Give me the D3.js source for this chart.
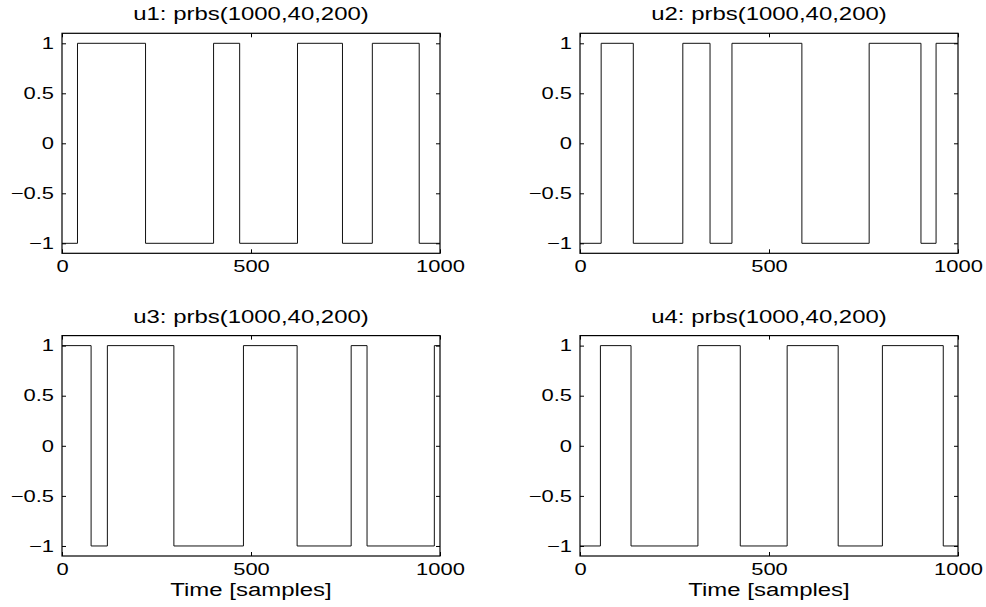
<!DOCTYPE html>
<html>
<head>
<meta charset="utf-8">
<script src="https://cdn.jsdelivr.net/npm/d3@7"></script>
<style>
  html, body { margin: 0; padding: 0; background: #fff; }
  svg { display: block; }
  text { font-family: "Liberation Sans", Arial, Helvetica, sans-serif; fill: #000; }
</style>
</head>
<body>
<svg id="chart" width="986" height="607"></svg>
<script>
// ---- data ----
const titles = ["u1: prbs(1000,40,200)", "u2: prbs(1000,40,200)", "u3: prbs(1000,40,200)", "u4: prbs(1000,40,200)"];
const startLevels = [-1, -1, 1, -1];
const u1Switch = [41, 221, 401, 470, 623, 742, 821, 945];
const u2Switch = [56, 141, 272, 344, 402, 587, 765, 902, 942];
const u3Switch = [77, 120, 296, 480, 622, 765, 807, 985];
const u4Switch = [54, 135, 312, 424, 548, 683, 800, 961];
const switchTimes = [u1Switch, u2Switch, u3Switch, u4Switch];
const nSamples = 1000;
const xTicks = [0, 500, 1000];
const yTicks = [-1, -0.5, 0, 0.5, 1];
const xDomain = [0, 1000];
const yDomain = [-1.1, 1.1];
const xLabel = "Time [samples]";

// ---- layout ----
const panels = [
  {x0: 62, x1: 440, y0: 33.3, y1: 253.3},
  {x0: 580, x1: 958, y0: 33.3, y1: 253.3},
  {x0: 62, x1: 440, y0: 335.6, y1: 556},
  {x0: 580, x1: 958, y0: 335.6, y1: 556}
];
const tickFont = 16.5, tickStretch = 1.33;
const titleFont = 19, titleStretch = 1.26;

const svg = d3.select("#chart");

function buildSteps(start, sw) {
  const pts = [];
  let level = start;
  pts.push([0, level]);
  sw.forEach(t => { pts.push([t, level]); level = -level; pts.push([t, level]); });
  pts.push([nSamples, level]);
  return pts;
}

panels.forEach((p, i) => {
  const x = d3.scaleLinear().domain(xDomain).range([p.x0, p.x1]);
  const y = d3.scaleLinear().domain(yDomain).range([p.y1, p.y0]);
  const g = svg.append("g");

  // signal
  const pts = buildSteps(startLevels[i], switchTimes[i]);
  g.append("path")
    .datum(pts)
    .attr("fill", "none")
    .attr("stroke", "#111")
    .attr("stroke-width", 1)
    .attr("d", d3.line().x(d => x(d[0])).y(d => y(d[1])));

  // axes
  const fmt = d3.format("");
  const ax = g.append("g").attr("transform", `translate(0,${p.y1})`)
    .call(d3.axisBottom(x).tickValues(xTicks).tickSizeInner(-4).tickSizeOuter(0).tickPadding(7).tickFormat(fmt));
  const ay = g.append("g").attr("transform", `translate(${p.x0},0)`)
    .call(d3.axisLeft(y).tickValues(yTicks).tickSizeInner(-4).tickSizeOuter(0).tickPadding(6).tickFormat(fmt));
  const at = g.append("g").attr("transform", `translate(0,${p.y0})`)
    .call(d3.axisTop(x).tickValues(xTicks).tickSizeInner(-4).tickSizeOuter(0).tickFormat(""));
  const ar = g.append("g").attr("transform", `translate(${p.x1},0)`)
    .call(d3.axisRight(y).tickValues(yTicks).tickSizeInner(-4).tickSizeOuter(0).tickFormat(""));

  [ax, ay, at, ar].forEach(a => {
    a.select(".domain").remove();
    a.selectAll(".tick line").attr("stroke", "#000").attr("stroke-width", 1);
    a.selectAll("text")
      .attr("font-size", tickFont)
      .attr("font-family", "'Liberation Sans', Arial, Helvetica, sans-serif")
      .attr("fill", "#000")
      .attr("transform", `scale(${tickStretch},1)`);
  });

  // box
  g.append("rect")
    .attr("x", p.x0).attr("y", p.y0)
    .attr("width", p.x1 - p.x0).attr("height", p.y1 - p.y0)
    .attr("fill", "none").attr("stroke", "#000").attr("stroke-width", 1.2);

  // title
  const cx = (p.x0 + p.x1) / 2;
  g.append("text")
    .attr("transform", `translate(${cx},${p.y0 - 13}) scale(${titleStretch},1)`)
    .attr("text-anchor", "middle")
    .attr("font-size", titleFont)
    .text(titles[i]);

  // x label on the bottom row
  if (i >= 2) {
    g.append("text")
      .attr("transform", `translate(${cx},${p.y1 + 39.5}) scale(${titleStretch},1)`)
      .attr("text-anchor", "middle")
      .attr("font-size", titleFont)
      .text(xLabel);
  }
});
</script>
</body>
</html>
